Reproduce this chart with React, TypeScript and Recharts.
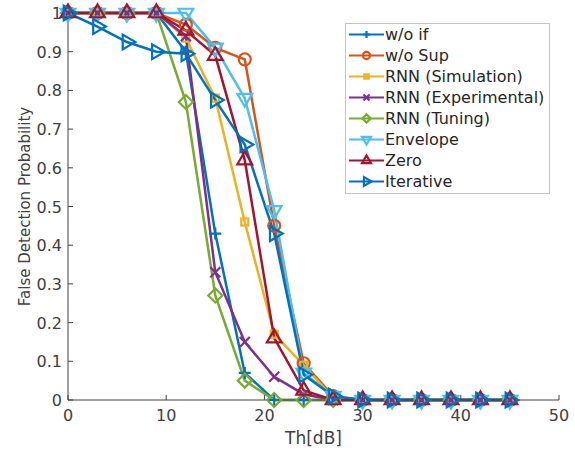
import React from 'react';
import { LineChart, Line, XAxis, YAxis, Legend } from 'recharts';

const thresholds = [0, 3, 6, 9, 12, 15, 18, 21, 24, 27, 30, 33, 36, 39, 42, 45];
const woIf = [1, 1, 1, 1, 0.9, 0.43, 0.07, 0, 0, 0, 0, 0, 0, 0, 0, 0];
const woSup = [1, 1, 1, 1, 0.97, 0.91, 0.88, 0.45, 0.095, 0.01, 0, 0, 0, 0, 0, 0];
const rnnSimulation = [1, 1, 1, 1, 0.935, 0.78, 0.46, 0.17, 0.09, 0.005, 0, 0, 0, 0, 0, 0];
const rnnExperimental = [1, 1, 1, 1, 0.94, 0.33, 0.15, 0.06, 0.015, 0, 0, 0, 0, 0, 0, 0];
const rnnTuning = [1, 1, 1, 1, 0.77, 0.27, 0.05, 0, 0, 0, 0, 0, 0, 0, 0, 0];
const envelope = [1, 1, 1, 1, 1, 0.91, 0.78, 0.49, 0.07, 0.01, 0, 0, 0, 0, 0, 0];
const zero = [1, 1, 1, 1, 0.955, 0.89, 0.62, 0.16, 0.025, 0, 0, 0, 0, 0, 0, 0];
const iterative = [1, 0.965, 0.925, 0.9, 0.895, 0.775, 0.66, 0.43, 0.065, 0.01, 0, 0, 0, 0, 0, 0];

const xTicks = [0, 10, 20, 30, 40, 50];
const yTicks = [0, 0.1, 0.2, 0.3, 0.4, 0.5, 0.6, 0.7, 0.8, 0.9, 1];

type Shape = 'plus' | 'circle' | 'square' | 'cross' | 'diamond' | 'down' | 'up' | 'right';

const series: { key: string; name: string; color: string; shape: Shape; values: number[] }[] = [
  { key: 'woIf', name: 'w/o if', color: '#0072BD', shape: 'plus', values: woIf },
  { key: 'woSup', name: 'w/o Sup', color: '#D95319', shape: 'circle', values: woSup },
  { key: 'rnnSim', name: 'RNN (Simulation)', color: '#EDB120', shape: 'square', values: rnnSimulation },
  { key: 'rnnExp', name: 'RNN (Experimental)', color: '#7E2F8E', shape: 'cross', values: rnnExperimental },
  { key: 'rnnTun', name: 'RNN (Tuning)', color: '#77AC30', shape: 'diamond', values: rnnTuning },
  { key: 'envelope', name: 'Envelope', color: '#4DBEEE', shape: 'down', values: envelope },
  { key: 'zero', name: 'Zero', color: '#A2142F', shape: 'up', values: zero },
  { key: 'iterative', name: 'Iterative', color: '#0072BD', shape: 'right', values: iterative },
];

const data = thresholds.map((x, i) => {
  const row: { [k: string]: number } = { x };
  series.forEach(s => { row[s.key] = s.values[i]; });
  return row;
});

const FONT = '"DejaVu Sans", sans-serif';
const TEXT = '#404040';
const AXIS = '#404040';

const Marker = ({ shape, cx, cy, color, s }: { shape: Shape; cx: number; cy: number; color: string; s: number }) => {
  const p = { stroke: color, strokeWidth: 2.2, fill: 'none' };
  switch (shape) {
    case 'plus':
      return <path d={`M${cx - s},${cy}H${cx + s}M${cx},${cy - s}V${cy + s}`} {...p} />;
    case 'circle':
      return <circle cx={cx} cy={cy} r={s} {...p} />;
    case 'square':
      return <rect x={cx - s} y={cy - s} width={2 * s} height={2 * s} {...p} />;
    case 'cross':
      return <path d={`M${cx - s},${cy - s}L${cx + s},${cy + s}M${cx - s},${cy + s}L${cx + s},${cy - s}`} {...p} />;
    case 'diamond':
      return <path d={`M${cx},${cy - s}L${cx + s},${cy}L${cx},${cy + s}L${cx - s},${cy}Z`} {...p} />;
    case 'down':
      return <path d={`M${cx - 0.87 * s},${cy - 0.5 * s}L${cx + 0.87 * s},${cy - 0.5 * s}L${cx},${cy + s}Z`} {...p} />;
    case 'up':
      return <path d={`M${cx - 0.87 * s},${cy + 0.5 * s}L${cx + 0.87 * s},${cy + 0.5 * s}L${cx},${cy - s}Z`} {...p} />;
    case 'right':
      return <path d={`M${cx - 0.5 * s},${cy - 0.87 * s}L${cx - 0.5 * s},${cy + 0.87 * s}L${cx + s},${cy}Z`} {...p} />;
  }
  return null;
};

const markerSize: { [k in Shape]: number } = {
  plus: 6, circle: 6, square: 3.5, cross: 5, diamond: 7, down: 8.5, up: 8.5, right: 8.5,
};

const BottomTick = ({ x, y, payload }: any) => (
  <g>
    <line x1={x} y1={y} x2={x} y2={y - 5} stroke={AXIS} />
    <text x={x} y={y + 21} textAnchor="middle" fill={TEXT} fontSize={16} fontFamily={FONT}>{payload.value}</text>
  </g>
);

const TopTick = ({ x, y }: any) => <line x1={x} y1={y} x2={x} y2={y + 5} stroke={AXIS} />;

const LeftTick = ({ x, y, payload }: any) => (
  <g>
    <line x1={x} y1={y} x2={x + 5} y2={y} stroke={AXIS} />
    <text x={x - 6} y={y + 6} textAnchor="end" fill={TEXT} fontSize={16} fontFamily={FONT}>{String(payload.value)}</text>
  </g>
);

const RightTick = ({ x, y }: any) => <line x1={x} y1={y} x2={x - 5} y2={y} stroke={AXIS} />;

const LegendBox = () => (
  <div style={{ border: '1px solid #c4c4c4', background: '#fff', padding: '0 5px 1px 2px', fontFamily: FONT }}>
    {series.map(s => (
      <div key={s.key} style={{ display: 'flex', alignItems: 'center', height: 21 }}>
        <svg width={37} height={21} style={{ display: 'block' }}>
          <line x1={1} y1={10.5} x2={36} y2={10.5} stroke={s.color} strokeWidth={2.2} />
          <Marker shape={s.shape} cx={18.5} cy={10.5} color={s.color} s={markerSize[s.shape] * 0.6} />
        </svg>
        <span style={{ fontSize: 16, color: '#262626', whiteSpace: 'nowrap' }}>{s.name}</span>
      </div>
    ))}
  </div>
);

export default function App() {
  return (
    <div style={{ position: 'absolute', left: 0, top: 0, width: 575, height: 450, background: '#fff' }}>
      <LineChart width={575} height={450} data={data} margin={{ top: 13, right: 16, bottom: 0, left: 0 }}>
        <XAxis
          dataKey="x" type="number" domain={[0, 50]} ticks={xTicks} height={50}
          tickLine={false} tickSize={0} tickMargin={0} axisLine={{ stroke: AXIS }}
          tick={<BottomTick />} interval={0}
          label={(p: any) => (
            <text x={p.viewBox.x + p.viewBox.width / 2} y={p.viewBox.y + 44} textAnchor="middle"
              fill={TEXT} fontSize={17} fontFamily={FONT}>Th[dB]</text>
          )}
        />
        <XAxis
          xAxisId="top" orientation="top" dataKey="x" type="number" domain={[0, 50]} ticks={xTicks} height={0}
          tickLine={false} tickSize={0} tickMargin={0} axisLine={{ stroke: AXIS }} tick={<TopTick />} interval={0}
        />
        <YAxis
          type="number" domain={[0, 1]} ticks={yTicks} width={68}
          tickLine={false} tickSize={0} tickMargin={0} axisLine={{ stroke: AXIS }}
          tick={<LeftTick />} interval={0}
          label={(p: any) => {
            const cx = 25;
            const cy = p.viewBox.y + p.viewBox.height / 2;
            return (
              <text x={cx} y={cy} transform={`rotate(-90 ${cx} ${cy})`} textAnchor="middle" dominantBaseline="central"
                fill={TEXT} fontSize={15} fontFamily={FONT}>False Detection Probability</text>
            );
          }}
        />
        <YAxis
          yAxisId="right" orientation="right" type="number" domain={[0, 1]} ticks={yTicks} width={0}
          tickLine={false} tickSize={0} tickMargin={0} axisLine={{ stroke: AXIS }} tick={<RightTick />} interval={0}
        />
        {series.map(s => (
          <Line
            key={s.key}
            dataKey={s.key}
            name={s.name}
            stroke={s.color}
            strokeWidth={2.5}
            isAnimationActive={false}
            dot={(p: any) => (
              <Marker key={`${s.key}-${p.index}`} shape={s.shape} cx={p.cx} cy={p.cy} color={s.color} s={markerSize[s.shape]} />
            )}
            activeDot={false}
          />
        ))}
        <Legend
          layout="vertical" align="center" verticalAlign="middle"
          wrapperStyle={{ top: 23, left: 345, width: 'auto', height: 'auto' }}
          content={() => <LegendBox />}
        />
      </LineChart>
    </div>
  );
}
